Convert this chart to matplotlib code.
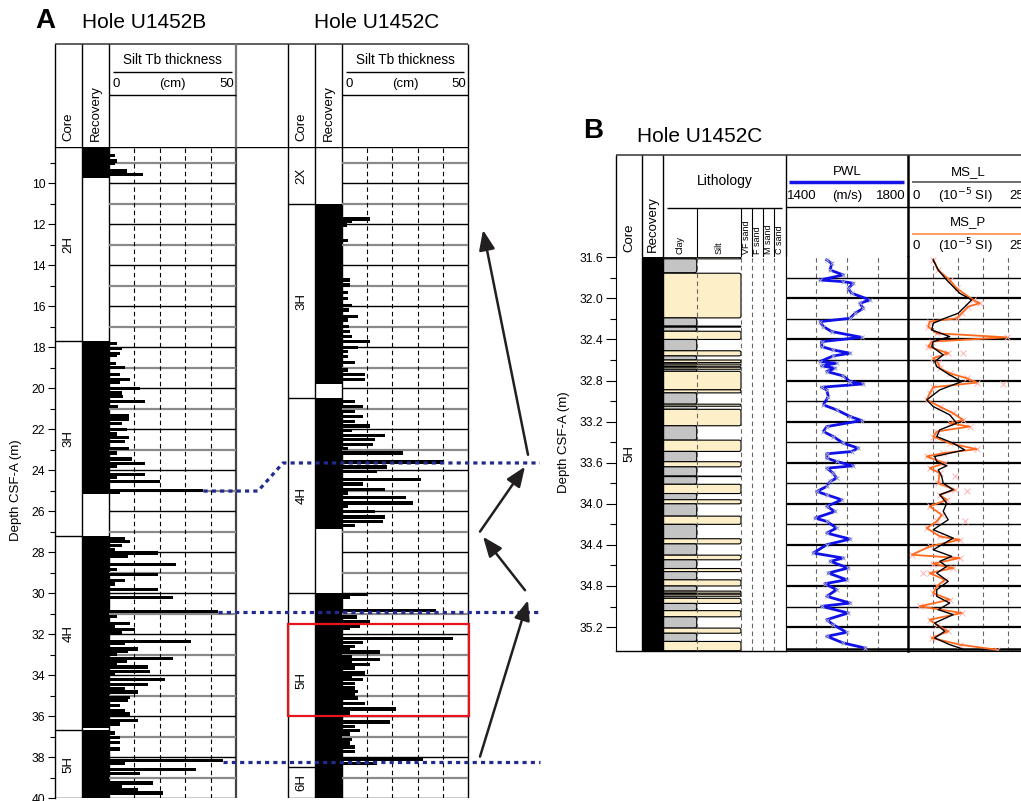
import matplotlib.pyplot as plt
from matplotlib.patches import FancyBboxPatch, Rectangle
import numpy as np

plt.rcParams['font.family'] = ['Liberation Sans', 'DejaVu Sans']

W, H = 1021, 801

# ---------------- Painel A : dados ----------------
top_A = 8.23
bot_A = 40.0

# Hole U1452B
b_core_lab = ['2H', '3H', '4H', '5H']
b_core_top = [8.2, 17.7, 27.2, 36.7]
b_core_bot = [17.7, 27.2, 36.7, 40.0]
b_rec_top = [8.2, 17.7, 27.2, 36.7]
b_rec_bot = [9.75, 25.15, 36.6, 40.0]
b_tb_depth = [8.65, 8.91, 9.03, 9.40, 9.58,
              17.81, 18.08, 18.29, 18.42, 18.81, 18.99, 19.35, 19.56, 19.72, 20.0,
              20.24, 20.41, 20.65, 20.89, 21.32, 21.51, 21.74, 22.03, 22.23, 22.41,
              22.6, 22.93, 23.17, 23.46, 23.66, 23.82, 24.23, 24.34, 24.55, 25.0, 25.09,
              27.32, 27.48, 27.68, 27.89, 28.05, 28.21, 28.62, 28.86, 29.11, 29.38,
              29.55, 29.81, 30.2, 30.9, 31.14, 31.5, 31.63, 31.79, 31.92, 32.36, 32.47,
              32.73, 32.86, 32.98, 33.2, 33.35, 33.45, 33.61, 33.82, 33.98, 34.23,
              34.47, 34.64, 34.83, 35.09, 35.24, 35.48, 35.72, 35.9, 36.23, 36.39,
              36.83, 37.03, 37.29, 37.61, 38.18, 38.29, 38.62, 38.81, 39.27, 39.43,
              39.6, 39.76]
b_tb_cm = [2.4, 3.3, 2.4, 7.2, 13.3,
           3.0, 5.3, 4.3, 3.3, 2.6, 6.3, 4.3, 8.3, 4.3, 12.2,
           5.0, 5.4, 14.2, 3.7, 8.0, 8.0, 5.3, 7.2, 3.0, 8.0,
           6.3, 8.0, 3.3, 9.2, 14.2, 3.0, 14.2, 3.0, 20.1, 37.2, 4.3,
           6.3, 8.3, 5.3, 2.4, 19.2, 7.4, 26.3, 3.3, 19.2, 6.3,
           2.4, 19.2, 25.3, 43.1, 3.3, 8.3, 2.4, 10.3, 5.3, 32.3, 6.3,
           11.3, 7.4, 3.3, 25.3, 7.2, 3.3, 15.2, 16.2, 2.4, 22.1,
           15.2, 6.3, 11.3, 8.3, 7.4, 4.3, 6.3, 8.3, 11.3, 4.3,
           2.4, 4.3, 4.3, 4.3, 45.0, 6.3, 34.3, 12.2, 17.2, 5.3,
           11.3, 21.1]

# Hole U1452C
c_core_lab = ['2X', '3H', '4H', '5H', '6H']
c_core_top = [8.2, 11.0, 20.5, 30.0, 38.5]
c_core_bot = [11.0, 20.5, 30.0, 38.5, 40.0]
c_rec_top = [11.0, 20.5, 30.0]
c_rec_bot = [19.8, 26.85, 40.0]
c_tb_depth = [11.74, 11.87, 12.03, 12.81, 14.72, 14.96, 15.33, 15.61, 15.97, 16.18,
              16.5, 16.67, 16.99, 17.24, 17.48, 17.72, 18.0, 18.21, 18.46, 18.75,
              19.11, 19.35, 19.59,
              20.65, 20.89, 21.14, 21.38, 21.63, 21.84, 22.07, 22.31, 22.52, 22.76,
              22.93, 23.17, 23.6, 23.85, 24.07, 24.47, 24.67, 24.96, 25.12, 25.32,
              25.61, 25.77, 26.02, 26.29, 26.51, 26.7,
              30.08, 30.21, 30.86, 31.17, 31.38, 31.6, 31.71, 32.2, 32.41, 32.6,
              32.77, 32.88, 33.09, 33.25, 33.38, 33.5, 33.66, 33.9, 34.07, 34.23,
              34.42, 34.63, 34.8, 34.96, 35.12, 35.4, 35.66, 35.85, 36.29, 36.5,
              36.7, 36.88, 37.16, 37.32, 37.51, 37.72, 38.13, 38.33]
c_tb_cm = [11.1, 3.8, 2.1, 2.3, 3.2, 3.2, 2.3, 2.3, 4.1, 2.6,
           6.2, 2.3, 2.8, 3.2, 4.1, 11.1, 6.2, 2.3, 2.3, 5.2,
           2.3, 9.1, 9.1,
           5.2, 8.2, 5.2, 8.2, 5.2, 11.1, 3.8, 17.1, 13.1, 12.2,
           2.3, 24.1, 40.2, 18.0, 14.0, 31.2, 8.2, 17.1, 2.3, 25.4,
           28.3, 2.3, 13.1, 17.1, 16.1, 5.2,
           10.0, 3.2, 37.2, 6.1, 11.1, 7.1, 3.2, 44.2, 8.2, 5.2,
           3.2, 15.1, 4.1, 15.1, 4.1, 11.1, 5.2, 9.1, 4.1, 8.2,
           5.2, 5.2, 6.2, 5.2, 6.2, 9.1, 21.3, 3.2, 19.0, 5.2,
           7.1, 3.2, 4.1, 3.2, 5.2, 5.2, 32.0, 14.0]

# correlações (profundidade em B, profundidade em C)
tie_b = [25.02, 30.93, 38.23]
tie_c = [23.65, 30.93, 38.23]
tie_cm = [37.2, 43.1, 45.0]
# setas (x px, profundidade)
arr_tail = [(528, 23.25), (480, 27.0), (525, 29.86), (480, 37.98)]
arr_head = [(483, 12.28), (525, 23.83), (483, 27.25), (528, 30.35)]
# caixa vermelha (5H)
red_top, red_bot = 31.5, 36.02

# ---------------- Painel B : dados ----------------
top_B, bot_B = 31.6, 35.43
sec_end_B = 35.41
litho_top = [31.60, 31.615, 31.755, 32.19, 32.27, 32.28, 32.32, 32.40, 32.51, 32.56, 32.60,
             32.625, 32.64, 32.66, 32.67, 32.69, 32.71, 32.89, 32.92, 33.03, 33.05,
             33.08, 33.24, 33.38, 33.49, 33.59, 33.64, 33.73, 33.735, 33.81, 33.90,
             33.96, 34.00, 34.12, 34.20, 34.34, 34.39, 34.50, 34.545, 34.63, 34.66,
             34.74, 34.80, 34.85, 34.87, 34.88, 34.90, 34.92, 34.97, 35.04, 35.10,
             35.21, 35.26, 35.34]
litho_bot = [31.615, 31.75, 32.19, 32.27, 32.28, 32.32, 32.40, 32.51, 32.56, 32.60, 32.625,
             32.64, 32.66, 32.67, 32.69, 32.71, 32.89, 32.92, 33.03, 33.05, 33.08,
             33.24, 33.38, 33.49, 33.59, 33.64, 33.73, 33.735, 33.81, 33.90, 33.96,
             34.00, 34.12, 34.20, 34.34, 34.39, 34.50, 34.545, 34.63, 34.66, 34.74,
             34.80, 34.85, 34.87, 34.88, 34.90, 34.92, 34.97, 35.04, 35.10, 35.21,
             35.26, 35.34, 35.43]
litho_type = ['s', 'c', 's', 'c', 's', 'c', 's', 'c', 's', 'c', 's',
              'c', 's', 'c', 's', 'c', 's', 's', 'c', 's', 'c',
              's', 'c', 's', 'c', 's', 'c', 's', 'c', 's', 'c',
              's', 'c', 's', 'c', 's', 'c', 's', 'c', 's', 'c',
              's', 'c', 's', 'c', 's', 'c', 's', 'c', 's', 'c',
              's', 'c', 's']

pwl_depth = [31.626, 31.659, 31.724, 31.772, 31.821, 31.837, 31.853, 31.902, 31.95, 32.015,
             32.048, 32.097, 32.145, 32.194, 32.226, 32.275, 32.323, 32.379, 32.421, 32.469,
             32.502, 32.534, 32.56, 32.615, 32.631, 32.657, 32.68, 32.712, 32.755, 32.81,
             32.833, 32.865, 32.891, 32.956, 33.037, 33.085, 33.15, 33.189, 33.248, 33.296,
             33.345, 33.41, 33.458, 33.491, 33.513, 33.555, 33.588, 33.63, 33.653, 33.701,
             33.75, 33.782, 33.831, 33.88, 33.912, 33.961, 34.025, 34.074, 34.139, 34.171,
             34.236, 34.285, 34.343, 34.398, 34.479, 34.528, 34.56, 34.625, 34.674, 34.739,
             34.778, 34.836, 34.901, 34.966, 34.998, 35.063, 35.128, 35.177, 35.251, 35.29,
             35.355, 35.404]
pwl_val = [1534, 1550, 1545, 1588, 1512, 1588, 1621, 1604, 1615, 1675,
           1642, 1653, 1626, 1610, 1512, 1523, 1550, 1648, 1517, 1517,
           1555, 1610, 1555, 1512, 1566, 1517, 1561, 1534, 1588, 1610,
           1653, 1517, 1534, 1539, 1523, 1566, 1610, 1648, 1534, 1523,
           1555, 1588, 1637, 1615, 1534, 1534, 1566, 1621, 1534, 1555,
           1566, 1545, 1534, 1501, 1534, 1583, 1534, 1561, 1496, 1534,
           1566, 1534, 1610, 1534, 1490, 1588, 1545, 1604, 1539, 1599,
           1528, 1566, 1534, 1610, 1517, 1604, 1534, 1555, 1599, 1534,
           1588, 1659]

msl_depth = [31.626, 31.724, 31.821, 31.886, 31.95, 32.015, 32.064, 32.145, 32.194, 32.242,
             32.307, 32.372, 32.421, 32.469, 32.55, 32.615, 32.664, 32.745, 32.81, 32.891,
             32.988, 33.053, 33.134, 33.215, 33.28, 33.345, 33.41, 33.475, 33.539, 33.588,
             33.63, 33.669, 33.734, 33.799, 33.863, 33.912, 33.993, 34.074, 34.155, 34.252,
             34.334, 34.447, 34.512, 34.56, 34.609, 34.674, 34.755, 34.836, 34.901, 34.966,
             35.031, 35.079, 35.16, 35.241, 35.306, 35.371, 35.42]
msl_val = [50, 60, 77, 90, 103, 127, 117, 100, 73, 50,
           47, 83, 50, 47, 70, 53, 57, 83, 107, 63,
           37, 50, 83, 97, 63, 57, 90, 113, 53, 57,
           77, 60, 67, 70, 90, 63, 77, 70, 80, 50,
           90, 50, 87, 63, 77, 57, 80, 57, 57, 83,
           60, 90, 53, 73, 53, 83, 113]

msp_depth = [31.626, 31.724, 31.821, 31.902, 32.015, 32.048, 32.08, 32.145, 32.194, 32.226,
             32.275, 32.34, 32.379, 32.421, 32.469, 32.534, 32.583, 32.631, 32.68, 32.729,
             32.777, 32.82, 32.865, 32.923, 32.988, 33.053, 33.118, 33.183, 33.215, 33.248,
             33.296, 33.345, 33.41, 33.468, 33.507, 33.539, 33.604, 33.653, 33.701, 33.799,
             33.863, 33.912, 33.961, 34.025, 34.107, 34.171, 34.236, 34.317, 34.35, 34.415,
             34.496, 34.528, 34.583, 34.625, 34.674, 34.739, 34.804, 34.869, 34.933, 34.998,
             35.063, 35.128, 35.177, 35.241, 35.306, 35.371, 35.42]
msp_val = [50, 60, 83, 97, 130, 143, 120, 107, 97, 43,
           40, 57, 197, 47, 40, 80, 50, 60, 63, 83,
           117, 137, 50, 43, 37, 63, 90, 110, 83, 123,
           57, 50, 83, 137, 70, 37, 73, 43, 63, 60,
           93, 63, 77, 43, 67, 57, 37, 63, 103, 43,
           7, 103, 50, 90, 43, 73, 57, 50, 83, 23,
           107, 43, 57, 80, 47, 103, 177]
msp_out_depth = [32.534, 32.833, 33.73, 33.88, 34.17, 34.67]
msp_out_val = [110, 190, 93, 117, 113, 30]


def add_px(x0, y0, x1, y1, **kw):
    return fig.add_axes([x0 / W, 1 - y1 / H, (x1 - x0) / W, (y1 - y0) / H], **kw)


fig = plt.figure(figsize=(W / 100, H / 100), dpi=100)

# camada de cabeçalho em pixels
hd = fig.add_axes([0, 0, 1, 1])
hd.set_xlim(0, W)
hd.set_ylim(H, 0)
hd.axis('off')

##### ---> Painel A
hd.text(35, 21, 'A', fontsize=20, fontweight='bold', va='center', ha='left')
hd.text(82, 22, 'Hole U1452B', fontsize=15, va='center', ha='left')
hd.text(314, 22, 'Hole U1452C', fontsize=15, va='center', ha='left')

hd.hlines(43.5, 55, 468, color='#444444', lw=1.2)
hd.vlines([55, 82, 109, 288, 315, 342, 468], 43.5, 147, color='k', lw=1)
hd.vlines(236, 43.5, 147, color='#777777', lw=1.6)
for x_core, x_rec, x0, x1 in [(68.5, 95.5, 109, 236), (301.5, 328.5, 342, 468)]:
    hd.text(x_core, 141, 'Core', rotation=90, ha='center', va='bottom', fontsize=9.5)
    hd.text(x_rec, 141, 'Recovery', rotation=90, ha='center', va='bottom', fontsize=9.5)
    xm = (x0 + x1) / 2
    hd.text(xm, 60, 'Silt Tb thickness', ha='center', va='center', fontsize=9.8)
    hd.hlines(71.5, x0 + 4, x1 - 4, color='k', lw=1)
    hd.text(x0 + 3, 84, '0', ha='left', va='center', fontsize=9.5)
    hd.text(xm, 84, '(cm)', ha='center', va='center', fontsize=9.5)
    hd.text(x1 - 2, 84, '50', ha='right', va='center', fontsize=9.5)
    hd.hlines(95, x0, x1, color='k', lw=1)

# eixo principal A (x em pixels, y em profundidade)
axA = add_px(55, 147, 545, 798)
axA.set_facecolor('none')
axA.set_xlim(55, 545)
axA.set_ylim(bot_A, top_A)
for s in ['top', 'right', 'bottom']:
    axA.spines[s].set_visible(False)
axA.spines['left'].set_linewidth(1)
axA.set_xticks([])
axA.set_yticks(np.arange(10, 41, 2))
axA.set_yticks(np.arange(9, 40, 2), minor=True)
axA.tick_params(axis='y', which='major', length=5, width=0.8, labelsize=8.7, pad=2)
axA.tick_params(axis='y', which='minor', length=3.5, width=0.8)
axA.set_ylabel('Depth CSF-A (m)', fontsize=9.5)
axA.yaxis.set_label_coords(-0.067, 0.473)

axA.hlines(top_A, 55, 468, color='k', lw=1)
axA.hlines(bot_A, 55, 236, color='k', lw=1)
axA.hlines(bot_A, 288, 468, color='k', lw=1)
axA.vlines([82, 109, 288, 315, 342, 468], top_A, bot_A, color='k', lw=1)
axA.vlines(236, top_A, bot_A, color='#444444', lw=1.6)

for labs, tops, bots, rt, rb, xc in [(b_core_lab, b_core_top, b_core_bot, b_rec_top, b_rec_bot, 55),
                                     (c_core_lab, c_core_top, c_core_bot, c_rec_top, c_rec_bot, 288)]:
    for lab, t, b in zip(labs, tops, bots):
        if t > top_A:
            axA.hlines(t, xc, xc + 27, color='k', lw=1)
        yc = (max(t, top_A) + min(b, bot_A)) / 2
        axA.text(xc + 13.5, yc, lab, rotation=90, ha='center', va='center', fontsize=9.5)
    for t, b in zip(rt, rb):
        axA.fill_betweenx([max(t, top_A), b], xc + 27, xc + 54, color='k', lw=0)

# colunas de espessura
for (x0, x1), dep, cm in [((109, 236), b_tb_depth, b_tb_cm), ((342, 468), c_tb_depth, c_tb_cm)]:
    ax = add_px(x0, 147, x1, 798)
    ax.set_facecolor('none')
    ax.set_xlim(0, 50)
    ax.set_ylim(bot_A, top_A)
    ax.axis('off')
    for d in range(9, 40):
        if d % 2 == 0:
            ax.axhline(d, color='k', lw=1, zorder=1)
        else:
            ax.axhline(d, color='#8a8a8a', lw=1.6, zorder=1)
    for v in [10, 20, 30, 40]:
        ax.axvline(v, color='k', lw=0.8, ls=(0, (4, 3)), zorder=1)
    ax.barh(dep, cm, height=0.16, left=0, color='k', zorder=2)

# sobreposição: correlações, setas e caixa
axO = add_px(55, 147, 545, 798)
axO.set_facecolor('none')
axO.set_xlim(55, 545)
axO.set_ylim(bot_A, top_A)
axO.axis('off')
tie_kw = dict(color='#232a8f', lw=2.3, ls=(0, (1.3, 1.3)), solid_capstyle='butt')
for db, dc, cm in zip(tie_b, tie_c, tie_cm):
    xs = 109 + cm * 127 / 50
    if db == dc:
        axO.plot([xs, 540], [db, dc], **tie_kw)
    else:
        axO.plot([xs, 258, 283, 540], [db, db, dc, dc], **tie_kw)
for (xt, dt), (xh, dh) in zip(arr_tail, arr_head):
    axO.annotate('', xy=(xh, dh), xytext=(xt, dt),
                 arrowprops=dict(arrowstyle='-|>,head_length=0.8,head_width=0.32',
                                 color='#231f20', lw=1.8, mutation_scale=15,
                                 shrinkA=0, shrinkB=0))
axO.add_patch(Rectangle((287.5, red_top), 181, red_bot - red_top, fill=False,
                        edgecolor='#e8141c', lw=1.6, zorder=5))

##### ---> Painel B
hd.text(583, 131, 'B', fontsize=20, fontweight='bold', va='center', ha='left')
hd.text(637, 136, 'Hole U1452C', fontsize=15, va='center', ha='left')
hd.hlines(155, 616, W, color='#444444', lw=1.2)
hd.vlines([616, 642.3, 663.3, 785.7], 155, 257.3, color='k', lw=1)
hd.vlines(908.3, 155, 257.3, color='k', lw=1.8)
hd.hlines(206.7, 785.7, W, color='k', lw=1)
hd.text(629.2, 252, 'Core', rotation=90, ha='center', va='bottom', fontsize=9.5)
hd.text(652.8, 252, 'Recovery', rotation=90, ha='center', va='bottom', fontsize=9.5)
hd.text(724.5, 181, 'Lithology', ha='center', va='center', fontsize=10)
hd.hlines(208, 667, 782, color='k', lw=1)
hd.vlines([696.7, 741, 751.7, 763.3, 774], 208, 257.3, color='k', lw=0.8)
for xm, lab in [(680, 'Clay'), (719, 'Silt'), (746.3, 'VF sand'), (757.5, 'F sand'),
                (768.6, 'M sand'), (779.8, 'C sand')]:
    hd.text(xm, 254, lab, rotation=90, ha='center', va='bottom', fontsize=6.5)
hd.text(847, 172, 'PWL', ha='center', va='center', fontsize=9.5)
hd.hlines(182, 789, 904, color='#1414e6', lw=2.5)
hd.text(787, 196, '1400', ha='left', va='center', fontsize=9.5)
hd.text(847, 196, '(m/s)', ha='center', va='center', fontsize=9.5)
hd.text(906, 196, '1800', ha='right', va='center', fontsize=9.5)
for y_t, y_l, y_s, nm, col in [(172, 182, 196, 'MS_L', '#555555'), (222, 234, 246, 'MS_P', '#ff8c4a')]:
    hd.text(968, y_t, nm, ha='center', va='center', fontsize=9.5)
    hd.hlines(y_l, 912, 1030, color=col, lw=1.2)
    hd.text(912, y_s, '0', ha='left', va='center', fontsize=9.5)
    hd.text(966, y_s, '(10$^{-5}$ SI)', ha='center', va='center', fontsize=9.5)
    hd.text(1031, y_s, '250', ha='right', va='center', fontsize=9.5)

# core, recovery, lithology
axB = add_px(616, 257.3, 785.7, 650.7)
axB.set_xlim(616, 785.7)
axB.set_ylim(bot_B, top_B)
axB.spines['top'].set_visible(False)
axB.spines['right'].set_linewidth(0.8)
axB.spines['bottom'].set_linewidth(1)
axB.set_xticks([])
yt_B = np.round(np.arange(31.6, 35.3, 0.4), 1)
axB.set_yticks(yt_B)
axB.set_yticks(np.arange(31.8, 35.4, 0.4), minor=True)
axB.set_yticklabels([f'{v:.1f}' for v in yt_B])
axB.tick_params(axis='y', which='major', length=7, width=0.8, labelsize=8.7, pad=2)
axB.tick_params(axis='y', which='minor', length=4, width=0.8)
axB.set_ylabel('Depth CSF-A (m)', fontsize=9.5)
axB.yaxis.set_label_coords(-0.271, 0.53)
axB.text(629.2, (top_B + bot_B) / 2, '5H', rotation=90, ha='center', va='center', fontsize=9.5)
axB.vlines([642.3, 663.3], top_B, bot_B, color='k', lw=1, zorder=4)
axB.fill_betweenx([top_B, bot_B], 642.3, 663.3, color='k', lw=0, zorder=4)
for v in [696.7, 741, 751.7, 763.3, 774]:
    axB.axvline(v, color='#666666', lw=0.8, ls=(0, (4, 3)), zorder=3)
px_y = (bot_B - top_B) / 393.4
for t, b, k in zip(litho_top, litho_bot, litho_type):
    x1 = 696.7 if k == 'c' else 741
    fc = '#c4c4c4' if k == 'c' else '#fdf0c9'
    rs = min(2.0, (b - t) / px_y / 2)
    axB.add_patch(FancyBboxPatch((659, t), x1 - 659, b - t,
                                 boxstyle=f'round,pad=0,rounding_size={rs}',
                                 mutation_aspect=px_y, facecolor=fc,
                                 edgecolor='k', lw=0.8, zorder=2))

# PWL
pw = add_px(785.7, 257.3, 908.3, 650.7)
pw.set_xlim(1400, 1800)
pw.set_ylim(bot_B, top_B)
pw.set_xticks([])
pw.set_yticks([])
for s in ['top', 'right']:
    pw.spines[s].set_visible(False)
pw.spines['left'].set_linewidth(0.8)
for v in [1500, 1600, 1700]:
    pw.axvline(v, color='#666666', lw=0.8, ls=(0, (4, 3)), zorder=1)

# MS
ms = add_px(908.3, 257.3, 1033, 650.7)
ms.set_xlim(0, 250)
ms.set_ylim(bot_B, top_B)
ms.set_xticks([])
ms.set_yticks([])
for s in ['top', 'right']:
    ms.spines[s].set_visible(False)
ms.spines['left'].set_linewidth(1.8)
for v in [50, 100, 150, 200]:
    ms.axvline(v, color='#666666', lw=0.8, ls=(0, (4, 3)), zorder=1)

for ax in [pw, ms]:
    for d in np.arange(31.8, 35.3, 0.2):
        thick = abs((d - 31.6) / 0.4 - round((d - 31.6) / 0.4)) < 0.01
        ax.axhline(d, color='k', lw=1.6 if thick else 1.0, zorder=1)
    ax.axhline(sec_end_B, color='k', lw=1.8, zorder=1)

pw.plot(pwl_val, pwl_depth, color='#1010e8', lw=2, zorder=3)
pw.plot(pwl_val, pwl_depth, ls='none', marker='x', ms=3.5, mew=0.7, color='#a8a8c8', zorder=4)

ms.plot(msp_val, msp_depth, ls='none', marker='x', ms=4, mew=0.7, color='#ffb0b0', zorder=2)
ms.plot(msp_out_val, msp_out_depth, ls='none', marker='x', ms=4, mew=0.7, color='#ffb0b0', zorder=2)
ms.plot(msp_val, msp_depth, color='#ff6a1e', lw=1.3, zorder=3)
ms.plot(msl_val, msl_depth, color='k', lw=1, zorder=4)

fig.savefig('out.png', dpi=100)
